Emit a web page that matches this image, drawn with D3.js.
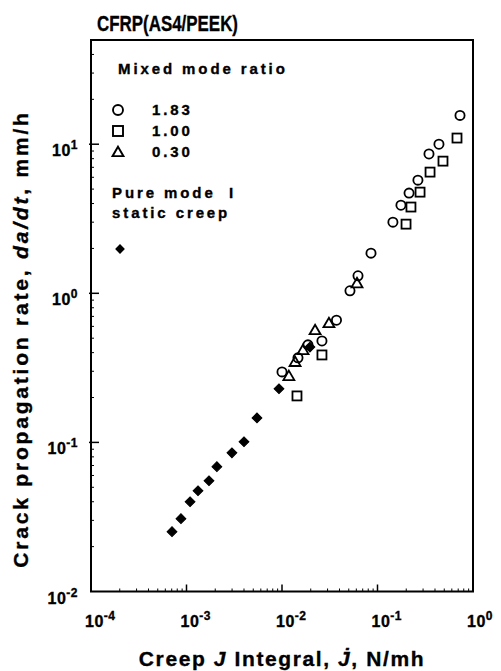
<!DOCTYPE html>
<html>
<head>
<meta charset="utf-8">
<script src="https://cdn.jsdelivr.net/npm/d3@7"></script>
<style>
  body { margin: 0; background: #fff; }
  svg { display: block; font-family: "Liberation Sans", Arial, sans-serif; font-weight: bold; }
  svg text { stroke: #000; stroke-width: 0.35px; }
</style>
</head>
<body>
<script>
// mixed mode ratio 1.83 (open circles): [J, da/dt]
const ratio183 = [
  [0.731, 15.6], [0.44, 10.0], [0.346, 8.6], [0.265, 5.74], [0.214, 4.7],
  [0.176, 3.9], [0.145, 3.0], [0.0855, 1.86], [0.0625, 1.31], [0.0515, 1.04],
  [0.0372, 0.66], [0.0262, 0.479], [0.0187, 0.451], [0.0147, 0.369], [0.0100, 0.297]
];
// mixed mode ratio 1.00 (open squares)
const ratio100 = [
  [0.68, 11.0], [0.485, 7.7], [0.355, 6.5], [0.279, 4.77], [0.224, 3.79],
  [0.199, 2.91], [0.0262, 0.386], [0.01435, 0.205]
];
// mixed mode ratio 0.30 (open triangles)
const ratio030 = [
  [0.061, 1.17], [0.031, 0.632], [0.0222, 0.567], [0.0166, 0.417],
  [0.0137, 0.347], [0.0118, 0.279]
];
// pure mode I static creep (filled diamonds)
const pureModeI = [
  [0.000705, 0.0252], [0.000875, 0.0308], [0.00109, 0.040], [0.00132, 0.0474],
  [0.00172, 0.0553], [0.00208, 0.0687], [0.00299, 0.0851], [0.0040, 0.101],
  [0.00547, 0.146], [0.0093, 0.229], [0.0196, 0.436]
];

const xTicks = [1e-4, 1e-3, 1e-2, 1e-1, 1];
const xTickExp = ["-4", "-3", "-2", "-1", "0"];
const yTicks = [1e-2, 1e-1, 1, 10];
const yTickExp = ["-2", "-1", "0", "1"];
const legendItems = [
  {label: "1.83", shape: "circle"},
  {label: "1.00", shape: "square"},
  {label: "0.30", shape: "triangle"}
];

const width = 501, height = 671;
const margin = {top: 40, right: 28, bottom: 79.5, left: 91};

const x = d3.scaleLog([1e-4, 1], [margin.left, width - margin.right]);
const y = d3.scaleLog([1e-2, 50], [height - margin.bottom, margin.top]);

const svg = d3.select("body").append("svg")
    .attr("width", width)
    .attr("height", height);

// minor ticks
const minors = (lo, hi) => {
  const out = [];
  for (let e = Math.floor(Math.log10(lo)); e <= Math.ceil(Math.log10(hi)); e++)
    for (let m = 2; m <= 9; m++) {
      const v = m * Math.pow(10, e);
      if (v > lo && v < hi) out.push(v);
    }
  return out;
};

const axes = svg.append("g").attr("stroke", "#000").attr("fill", "none");
axes.append("g")
  .selectAll("line")
  .data(minors(1e-4, 1))
  .join("line")
    .attr("x1", d => x(d)).attr("x2", d => x(d))
    .attr("y1", y(1e-2)).attr("y2", y(1e-2) - 3)
    .attr("stroke-width", 1);
axes.append("g")
  .selectAll("line")
  .data(xTicks.slice(1, -1))
  .join("line")
    .attr("x1", d => x(d)).attr("x2", d => x(d))
    .attr("y1", y(1e-2)).attr("y2", y(1e-2) - 7)
    .attr("stroke-width", 1.5);
axes.append("g")
  .selectAll("line")
  .data(minors(1e-2, 50))
  .join("line")
    .attr("x1", x(1e-4)).attr("x2", x(1e-4) + 3)
    .attr("y1", d => y(d)).attr("y2", d => y(d))
    .attr("stroke-width", 1);
axes.append("g")
  .selectAll("line")
  .data(yTicks.slice(1))
  .join("line")
    .attr("x1", x(1e-4) - 2).attr("x2", x(1e-4) + 8)
    .attr("y1", d => y(d)).attr("y2", d => y(d))
    .attr("stroke-width", 1.5);

axes.append("rect")
    .attr("x", margin.left)
    .attr("y", margin.top)
    .attr("width", width - margin.left - margin.right)
    .attr("height", height - margin.top - margin.bottom)
    .attr("stroke-width", 2);

// tick labels
const xl = svg.append("g").selectAll("text")
  .data(xTicks)
  .join("text")
    .attr("x", d => x(d) - 6)
    .attr("y", 627)
    .attr("font-size", 16)
    .attr("letter-spacing", 0.5);
xl.append("tspan").text("10");
xl.append("tspan").attr("dy", -7).attr("font-size", 12).text((d, i) => xTickExp[i]);

const yl = svg.append("g").selectAll("text")
  .data(yTicks)
  .join("text")
    .attr("x", 78)
    .attr("y", d => y(d) + 12)
    .attr("text-anchor", "end")
    .attr("font-size", 16)
    .attr("letter-spacing", 0.5);
yl.append("tspan").text("10");
yl.append("tspan").attr("dy", -7).attr("font-size", 12).text((d, i) => yTickExp[i]);

// markers
const marks = svg.append("g").attr("stroke", "#000").attr("stroke-width", 1.8);
const tri = d3.symbol(d3.symbolTriangle, 52);
const dia = d3.symbol(d3.symbolSquare, 48);

marks.append("g")
  .selectAll("circle")
  .data(ratio183)
  .join("circle")
    .attr("cx", d => x(d[0])).attr("cy", d => y(d[1]))
    .attr("r", 4.6).attr("fill", "none");
marks.append("g")
  .selectAll("rect")
  .data(ratio100)
  .join("rect")
    .attr("x", d => x(d[0]) - 4.5).attr("y", d => y(d[1]) - 4.5)
    .attr("width", 9).attr("height", 9).attr("fill", "none");
marks.append("g")
  .selectAll("path")
  .data(ratio030)
  .join("path")
    .attr("transform", d => `translate(${x(d[0])},${y(d[1]) + 1})`)
    .attr("d", tri).attr("fill", "none");
marks.append("g")
  .selectAll("path")
  .data(pureModeI)
  .join("path")
    .attr("transform", d => `translate(${x(d[0])},${y(d[1])}) rotate(45)`)
    .attr("d", dia).attr("fill", "#000").attr("stroke-width", 1);

// title
svg.append("text")
    .attr("x", 97).attr("y", 31)
    .attr("font-size", 22)
    .attr("stroke-width", 0.5)
    .attr("textLength", 141)
    .attr("lengthAdjust", "spacingAndGlyphs")
    .text("CFRP(AS4/PEEK)");

// legend
const lg = svg.append("g").attr("font-size", 15).attr("letter-spacing", 2.9);
lg.append("text").attr("x", 118).attr("y", 74).text("Mixed mode ratio");
const li = lg.selectAll("g.item")
  .data(legendItems)
  .join("g")
    .attr("class", "item")
    .attr("transform", (d, i) => `translate(118,${110 + i * 21})`);
li.append("text").attr("x", 34).attr("y", 5).text(d => d.label);
li.filter(d => d.shape === "circle").append("circle")
    .attr("r", 5).attr("fill", "none").attr("stroke", "#000").attr("stroke-width", 1.9);
li.filter(d => d.shape === "square").append("rect")
    .attr("x", -5).attr("y", -5).attr("width", 10).attr("height", 10)
    .attr("fill", "none").attr("stroke", "#000").attr("stroke-width", 1.9);
li.filter(d => d.shape === "triangle").append("path")
    .attr("d", tri).attr("transform", "translate(0,1)")
    .attr("fill", "none").attr("stroke", "#000").attr("stroke-width", 1.9);
lg.append("text").attr("x", 112).attr("y", 198).text("Pure mode");
lg.append("text").attr("x", 229).attr("y", 198).text("I");
lg.append("text").attr("x", 112).attr("y", 218).text("static creep");
lg.append("path")
    .attr("transform", "translate(120,249) rotate(45)")
    .attr("d", dia).attr("fill", "#000");

// axis titles
const yt = svg.append("text")
    .attr("transform", `translate(28,${339}) rotate(-90)`)
    .attr("text-anchor", "middle")
    .attr("font-size", 21)
    .attr("letter-spacing", 2.8);
yt.append("tspan").text("Crack propagation rate, ");
yt.append("tspan").attr("font-style", "italic").text("da/dt");
yt.append("tspan").text(", mm/h");

const xt = svg.append("text")
    .attr("x", 282).attr("y", 666)
    .attr("text-anchor", "middle")
    .attr("font-size", 21)
    .attr("letter-spacing", 1.6);
xt.append("tspan").text("Creep ");
xt.append("tspan").attr("font-style", "italic").text("J");
xt.append("tspan").text(" Integral, ");
xt.append("tspan").attr("font-style", "italic").text("J\u0307");
xt.append("tspan").text(", N/mh");
</script>
</body>
</html>
